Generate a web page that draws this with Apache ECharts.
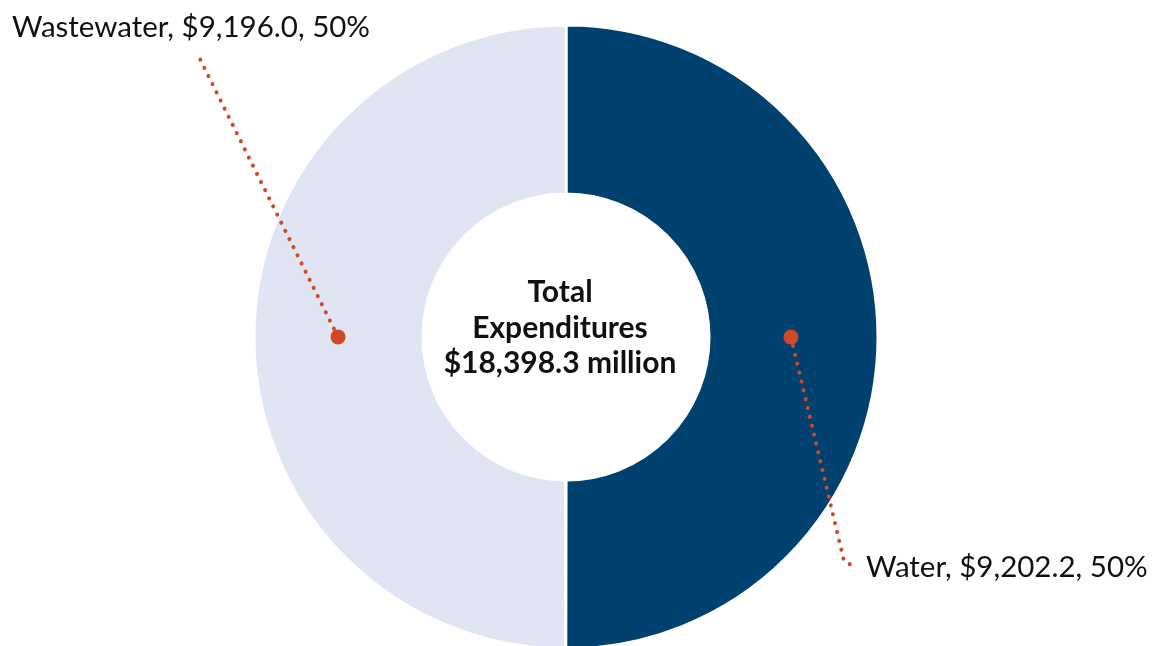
<!DOCTYPE html>
<html>
<head>
<meta charset="utf-8">
<script src="https://cdn.jsdelivr.net/npm/echarts@6/dist/echarts.min.js"></script>
<style>
html,body{margin:0;padding:0;background:#fff;}
#chart{width:1159px;height:646px;}
</style>
</head>
<body>
<div id="chart"></div>
<script>
const categories = ['Water', 'Wastewater'];
const values = [9202.2, 9196.0];
const centerTitle = ['Total', 'Expenditures', '$18,398.3 million'];

const CX = 566, CY = 337, R0 = 143, R1 = 312;
const FONT = 'Lato';
const accent = '#d04a2a';
const total = values.reduce((a, b) => a + b, 0);

// centroid of each slice (clockwise from 12 o'clock), derived from data
function centroid(i) {
  let acc = 0;
  for (let k = 0; k < i; k++) acc += values[k];
  const mid = (acc + values[i] / 2) / total * Math.PI * 2;
  const rm = (R0 + R1) / 2 - 1;
  return [CX - 1.5 + rm * Math.sin(mid), CY - rm * Math.cos(mid)];
}

const labelPlaces = [
  { x: 866, y: 567, line: (c) => [c, [844, 561], [853, 566]] },
  { x: 12, y: 27, line: (c) => [c, [197, 53]] }
];

const chart = echarts.init(document.getElementById('chart'), null, { renderer: 'canvas' });
const data = categories.map((n, i) => ({ name: n, value: values[i] }));

chart.setOption({
  animation: false,
  backgroundColor: '#ffffff',
  graphic: [{
    type: 'text',
    x: 560, y: 328,
    style: {
      text: centerTitle.join('\n'),
      align: 'center', verticalAlign: 'middle',
      font: 'bold 30px ' + FONT,
      lineHeight: 35.5,
      fill: '#111111'
    },
    z: 10
  }],
  series: [
    {
      type: 'pie',
      center: [CX, CY],
      radius: [R0, R1],
      startAngle: 90,
      clockwise: true,
      avoidLabelOverlap: false,
      silent: true,
      data: data,
      itemStyle: { borderColor: '#ffffff', borderWidth: 3 },
      color: ['#004170', '#e1e5f3'],
      label: { show: false },
      labelLine: { show: false }
    },
    {
      type: 'pie',
      center: [CX, CY],
      radius: [R0, R1],
      startAngle: 90,
      clockwise: true,
      avoidLabelOverlap: false,
      silent: true,
      z: 5,
      data: data,
      itemStyle: { color: 'rgba(0,0,0,0)', borderWidth: 0 },
      label: {
        show: true,
        formatter: (p) => p.name + ', $' + p.value.toLocaleString('en-US', { minimumFractionDigits: 1, maximumFractionDigits: 1 }) + ', ' + Math.round(p.percent) + '%',
        fontFamily: FONT,
        fontSize: 29.5,
        color: '#111111'
      },
      labelLine: {
        show: true,
        lineStyle: { color: accent, width: 4, type: [0.1, 9], cap: 'round' }
      },
      labelLayout: (params) => {
        const i = params.dataIndex;
        const pl = labelPlaces[i];
        return {
          x: pl.x, y: pl.y, align: 'left', verticalAlign: 'middle',
          labelLinePoints: pl.line(centroid(i))
        };
      }
    },
    {
      type: 'pie',
      center: [CX, CY],
      radius: [R0, R1],
      startAngle: 90,
      clockwise: true,
      avoidLabelOverlap: false,
      silent: true,
      z: 6,
      data: data,
      itemStyle: { color: 'rgba(0,0,0,0)', borderWidth: 0 },
      label: {
        show: true,
        formatter: '{d|}',
        rich: { d: { width: 15, height: 15, borderRadius: 7.5, backgroundColor: accent } }
      },
      labelLine: { show: false },
      labelLayout: (params) => {
        const c = centroid(params.dataIndex);
        return { x: c[0], y: c[1], align: 'center', verticalAlign: 'middle' };
      }
    }
  ]
});
</script>
</body>
</html>
